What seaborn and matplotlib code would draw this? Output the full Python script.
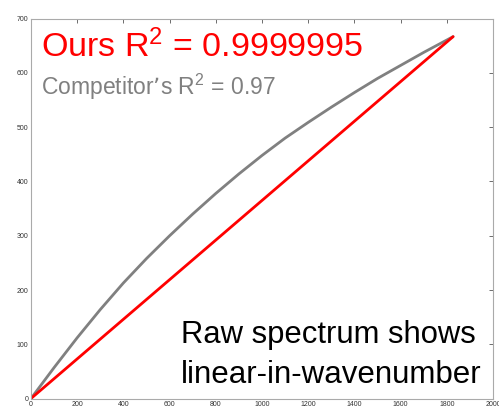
import seaborn as sns
import pandas as pd
import matplotlib
matplotlib.use('Agg')
import matplotlib.pyplot as plt

# values
wavenumber = [0, 100, 200, 300, 400, 500, 600, 700, 800, 900, 1000,
              1100, 1200, 1300, 1400, 1500, 1600, 1700, 1827]
competitor = [0, 57, 112, 164, 213, 258, 300, 340, 378, 414, 448,
              480, 509, 537, 564, 590, 614, 638, 667]
ours_x = [0, 1827]
ours_y = [0, 667]
x_ticks = [0, 200, 400, 600, 800, 1000, 1200, 1400, 1600, 1800, 2000]
y_ticks = [0, 100, 200, 300, 400, 500, 600, 700]

sns.set_style('white')
plt.rcParams['font.family'] = ['Liberation Sans', 'DejaVu Sans']
plt.rcParams['mathtext.default'] = 'regular'

df_comp = pd.DataFrame({'x': wavenumber, 'y': competitor})
df_ours = pd.DataFrame({'x': ours_x, 'y': ours_y})

fig = plt.figure(figsize=(4.99, 4.11), dpi=100)
ax = fig.add_axes([0.0621, 0.0304, 0.926, 0.924])

sns.lineplot(data=df_comp, x='x', y='y', color='#808080', linewidth=2, ax=ax)
sns.lineplot(data=df_ours, x='x', y='y', color='#ff0000', linewidth=2, ax=ax)

ax.set_xlim(0, 2000)
ax.set_ylim(0, 700)
ax.set_xticks(x_ticks)
ax.set_yticks(y_ticks)
ax.set_xlabel('')
ax.set_ylabel('')
ax.tick_params(direction='in', length=3, width=0.6, colors='#555555',
               labelsize=5, labelcolor='#333333', top=True, right=True,
               labeltop=False, labelright=False, pad=2)
for s in ax.spines.values():
    s.set_color('#aaaaaa')
    s.set_linewidth(0.8)

ax.text(0.022, 0.9, 'Ours R$^2$ = 0.9999995', transform=ax.transAxes,
        color='#ff0000', fontsize=24.5)
ax.text(0.022, 0.8, 'Competitor\u2019s R$^2$ = 0.97', transform=ax.transAxes,
        color='#808080', fontsize=16.5)
ax.text(0.325, 0.145, 'Raw spectrum shows', transform=ax.transAxes,
        color='black', fontsize=22.3)
ax.text(0.325, 0.04, 'linear-in-wavenumber', transform=ax.transAxes,
        color='black', fontsize=22.5)

fig.savefig('out.png', dpi=100)
